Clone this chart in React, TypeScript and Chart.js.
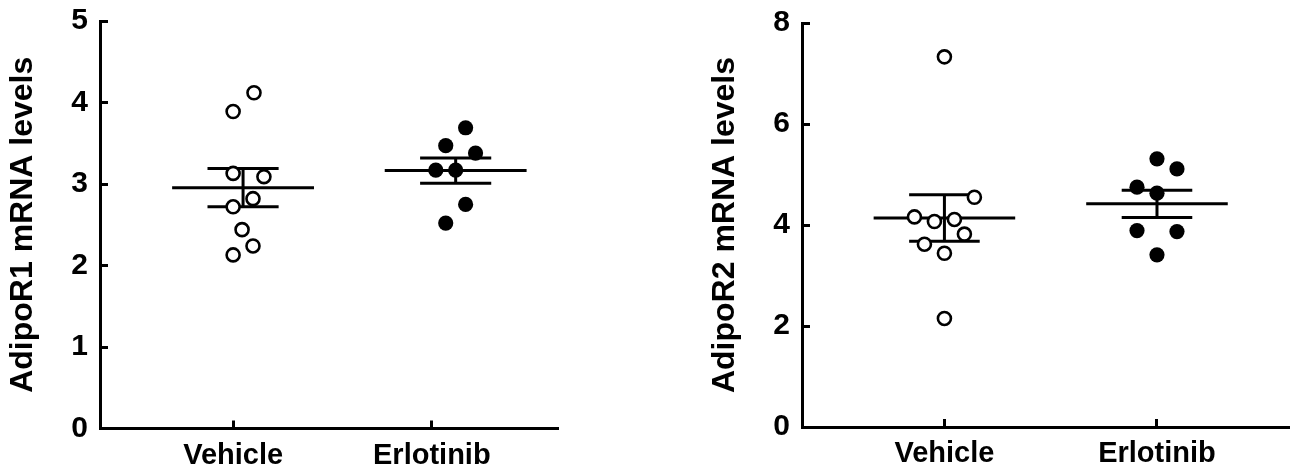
import React, { useEffect, useRef } from "react";
import { Chart, registerables } from "chart.js";
Chart.register(...registerables);

// ---------- data ----------
const categories = ["Vehicle", "Erlotinib"];

// Panel A: AdipoR1
const r1Vehicle = [4.12, 3.89, 3.13, 3.09, 2.82, 2.72, 2.44, 2.24, 2.13];
const r1Erlotinib = [3.69, 3.47, 3.38, 3.17, 3.17, 2.75, 2.52];
const r1Mean = [2.955, 3.165];
const r1Sem = [0.235, 0.155];
const r1Ticks = [0, 1, 2, 3, 4, 5];

// Panel B: AdipoR2
const r2Vehicle = [7.33, 4.55, 4.16, 4.07, 4.11, 3.82, 3.62, 3.44, 2.15];
const r2Erlotinib = [5.31, 5.11, 4.75, 4.63, 3.89, 3.87, 3.41];
const r2Mean = [4.14, 4.42];
const r2Sem = [0.46, 0.27];
const r2Ticks = [0, 2, 4, 6, 8];

// ---------- layout (beeswarm offsets, in slots) ----------
const r1VehicleSlots = [1.1, -1, -1, 2.1, 1, -1, -0.1, 1, -1];
const r1ErlotinibSlots = [1, -1, 2, -2, 0, 1, -1];
const r2VehicleSlots = [0, 3, -3, -1, 1, 2, -2, 0, 0];
const r2ErlotinibSlots = [0, 2, -2, 0, -2, 2, 0];

const FONT = "'Liberation Sans', Arial, Helvetica, sans-serif";

type PanelCfg = {
  title: string;
  vehicle: number[];
  erlotinib: number[];
  vSlots: number[];
  eSlots: number[];
  mean: number[];
  sem: number[];
  ticks: number[];
  yMax: number;
  centers: number[];
  slot: number;
  meanHalf: number;
  semHalf: number;
  padLeft: number;
  padTop: number;
  padRight: number;
  yWidth: number;
  xHeight: number;
};

function buildConfig(p: PanelCfg): any {
  const lineDs = (pts: { x: number; y: number }[]) => ({
    type: "line",
    data: pts,
    borderColor: "#000",
    borderWidth: 3,
    pointRadius: 0,
    showLine: true,
    fill: false,
    order: 2,
    clip: false,
  });
  const statDs: any[] = [];
  p.mean.forEach((m, i) => {
    const c = p.centers[i];
    const s = p.sem[i];
    statDs.push(lineDs([{ x: c - p.meanHalf, y: m }, { x: c + p.meanHalf, y: m }]));
    statDs.push(lineDs([{ x: c - p.semHalf, y: m + s }, { x: c + p.semHalf, y: m + s }]));
    statDs.push(lineDs([{ x: c - p.semHalf, y: m - s }, { x: c + p.semHalf, y: m - s }]));
    statDs.push(lineDs([{ x: c, y: m - s }, { x: c, y: m + s }]));
  });
  const vehiclePts = p.vehicle.map((v, i) => ({ x: p.centers[0] + p.vSlots[i] * p.slot, y: v }));
  const erlPts = p.erlotinib.map((v, i) => ({ x: p.centers[1] + p.eSlots[i] * p.slot, y: v }));
  return {
    type: "scatter",
    data: {
      datasets: [
        {
          type: "scatter",
          data: vehiclePts,
          pointRadius: 6.5,
          pointBorderWidth: 2.6,
          pointBackgroundColor: "#fff",
          pointBorderColor: "#000",
          order: 0,
          clip: false,
        },
        {
          type: "scatter",
          data: erlPts,
          pointRadius: 7.6,
          pointBorderWidth: 0,
          pointBackgroundColor: "#000",
          pointBorderColor: "#000",
          order: 0,
          clip: false,
        },
        ...statDs,
      ],
    },
    options: {
      responsive: false,
      animation: false,
      devicePixelRatio: 1,
      layout: { padding: { left: p.padLeft, top: p.padTop, right: p.padRight, bottom: 0 } },
      plugins: { legend: { display: false }, tooltip: { enabled: false }, title: { display: false } },
      scales: {
        x: {
          type: "linear",
          min: 0.33,
          max: 2.63,
          afterBuildTicks: (scale: any) => {
            scale.ticks = categories.map((_, i) => ({ value: i + 1 }));
          },
          afterFit: (scale: any) => {
            scale.height = p.xHeight;
            scale.paddingLeft = 0;
            scale.paddingRight = 0;
          },
          border: { display: true, color: "#000", width: 3 },
          grid: {
            display: true,
            drawOnChartArea: false,
            drawTicks: true,
            tickLength: -8,
            color: "#000",
            lineWidth: 3,
          },
          ticks: {
            color: "#000",
            font: { family: FONT, size: 29, weight: "bold" },
            padding: 18,
            maxRotation: 0,
            autoSkip: false,
            callback: (v: number) => categories[Math.round(v) - 1] ?? "",
          },
        },
        y: {
          type: "linear",
          min: 0,
          max: p.yMax,
          afterBuildTicks: (scale: any) => {
            scale.ticks = p.ticks.map((t) => ({ value: t }));
          },
          afterFit: (scale: any) => {
            scale.width = p.yWidth;
            scale.paddingTop = 0;
            scale.paddingBottom = 0;
          },
          border: { display: true, color: "#000", width: 3 },
          grid: {
            display: true,
            drawOnChartArea: false,
            drawTicks: true,
            tickLength: -8,
            color: "#000",
            lineWidth: 3,
          },
          ticks: {
            color: "#000",
            font: { family: FONT, size: 30, weight: "bold" },
            padding: 20,
            autoSkip: false,
          },
          title: {
            display: true,
            text: p.title,
            color: "#000",
            font: { family: FONT, size: 32, weight: "bold" },
            padding: { top: 4, bottom: 0 },
          },
        },
      },
    },
  };
}

const panelA: PanelCfg = {
  title: "AdipoR1 mRNA levels",
  vehicle: r1Vehicle,
  erlotinib: r1Erlotinib,
  vSlots: r1VehicleSlots,
  eSlots: r1ErlotinibSlots,
  mean: r1Mean,
  sem: r1Sem,
  ticks: r1Ticks,
  yMax: 5,
  centers: [1.05, 2.12],
  slot: 0.05,
  meanHalf: 0.357,
  semHalf: 0.179,
  padLeft: 0,
  padTop: 21,
  padRight: 83,
  yWidth: 100,
  xHeight: 46.5,
};

const panelB: PanelCfg = {
  title: "AdipoR2 mRNA levels",
  vehicle: r2Vehicle,
  erlotinib: r2Erlotinib,
  vSlots: r2VehicleSlots,
  eSlots: r2ErlotinibSlots,
  mean: r2Mean,
  sem: r2Sem,
  ticks: r2Ticks,
  yMax: 8,
  centers: [1, 2],
  slot: 0.047,
  meanHalf: 0.333,
  semHalf: 0.166,
  padLeft: 62,
  padTop: 23,
  padRight: 0,
  yWidth: 100,
  xHeight: 48,
};

function Panel({ cfg, left, width }: { cfg: PanelCfg; left: number; width: number }) {
  const ref = useRef<HTMLCanvasElement | null>(null);
  useEffect(() => {
    if (!ref.current) return;
    const chart = new Chart(ref.current, buildConfig(cfg));
    return () => chart.destroy();
  }, [cfg]);
  return (
    <canvas
      ref={ref}
      width={width}
      height={475}
      style={{ position: "absolute", left, top: 0, width, height: 475, display: "block" }}
    />
  );
}

export default function App() {
  return (
    <div
      style={{
        position: "absolute",
        left: 0,
        top: 0,
        width: 1290,
        height: 475,
        overflow: "hidden",
        background: "#fff",
      }}
    >
      <Panel cfg={panelA} left={0} width={640} />
      <Panel cfg={panelB} left={640} width={660} />
    </div>
  );
}
